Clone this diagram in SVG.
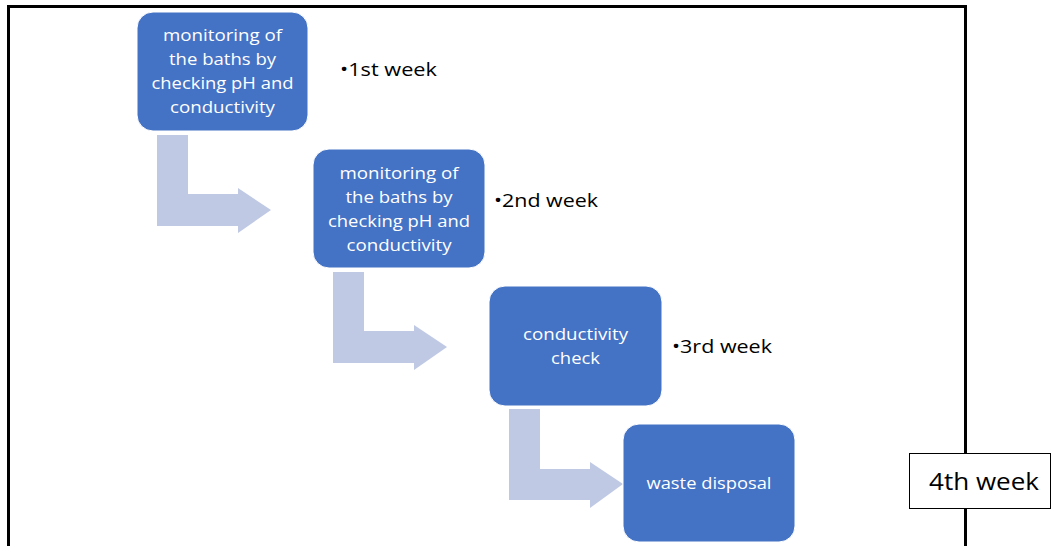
<svg xmlns="http://www.w3.org/2000/svg" width="1052" height="546" viewBox="0 0 1052 546">
<style>
.box{fill:#4472C4;stroke:#ffffff;stroke-width:1}
.arr{fill:#BFC9E4}
.t{font-family:"Open Sans","Liberation Sans",Arial,sans-serif;font-size:17px;fill:#ffffff;text-anchor:middle}
.w{font-family:"Open Sans","Liberation Sans",Arial,sans-serif;font-size:19px;fill:#000000}
</style>
<rect x="0" y="0" width="1052" height="546" fill="#ffffff"/>
<path d="M8.5,560 V6.5 H965.5 V560" fill="none" stroke="#000" stroke-width="3"/>
<g id="connectors">
<polygon class="arr" points="157,135 188,135 188,194 238,194 238,188 271,210 238,233 238,226 157,226"/>
<polygon class="arr" points="333,272 364,272 364,331 414,331 414,325 447,347 414,370 414,363 333,363"/>
<polygon class="arr" points="509,409 540,409 540,469 590,469 590,462 623,484 590,508 590,500 509,500"/>
</g>
<g id="node1">
<rect class="box" x="137" y="12" width="171" height="119" rx="16"/>
<text class="t" x="222.5" y="41" textLength="119" lengthAdjust="spacingAndGlyphs">monitoring of</text>
<text class="t" x="222.5" y="65" textLength="107" lengthAdjust="spacingAndGlyphs">the baths by</text>
<text class="t" x="222.5" y="89" textLength="142" lengthAdjust="spacingAndGlyphs">checking pH and</text>
<text class="t" x="222.5" y="113" textLength="105" lengthAdjust="spacingAndGlyphs">conductivity</text>
</g>
<g id="node2">
<rect class="box" x="313" y="149" width="172" height="119" rx="16"/>
<text class="t" x="399" y="179" textLength="119" lengthAdjust="spacingAndGlyphs">monitoring of</text>
<text class="t" x="399" y="203" textLength="107" lengthAdjust="spacingAndGlyphs">the baths by</text>
<text class="t" x="399" y="227" textLength="142" lengthAdjust="spacingAndGlyphs">checking pH and</text>
<text class="t" x="399" y="251" textLength="105" lengthAdjust="spacingAndGlyphs">conductivity</text>
</g>
<g id="node3">
<rect class="box" x="489" y="286" width="173" height="120" rx="16"/>
<text class="t" x="575.5" y="340" textLength="105" lengthAdjust="spacingAndGlyphs">conductivity</text>
<text class="t" x="575.5" y="364" textLength="49" lengthAdjust="spacingAndGlyphs">check</text>
</g>
<g id="node4">
<rect class="box" x="623" y="424" width="172" height="118" rx="16"/>
<text class="t" x="709" y="489" textLength="125" lengthAdjust="spacingAndGlyphs">waste disposal</text>
</g>
<g id="label1"><text class="w" x="340" y="76" textLength="97" lengthAdjust="spacingAndGlyphs">•1st week</text></g>
<g id="label2"><text class="w" x="494" y="207" textLength="104" lengthAdjust="spacingAndGlyphs">•2nd week</text></g>
<g id="label3"><text class="w" x="672" y="353" textLength="100" lengthAdjust="spacingAndGlyphs">•3rd week</text></g>
<g id="label4">
<rect x="909.5" y="453.5" width="141" height="55" fill="#ffffff" stroke="#000" stroke-width="1"/>
<text x="929" y="490" font-family="'Open Sans','Liberation Sans',Arial,sans-serif" font-size="24" textLength="110" lengthAdjust="spacingAndGlyphs">4th week</text>
</g>
</svg>
